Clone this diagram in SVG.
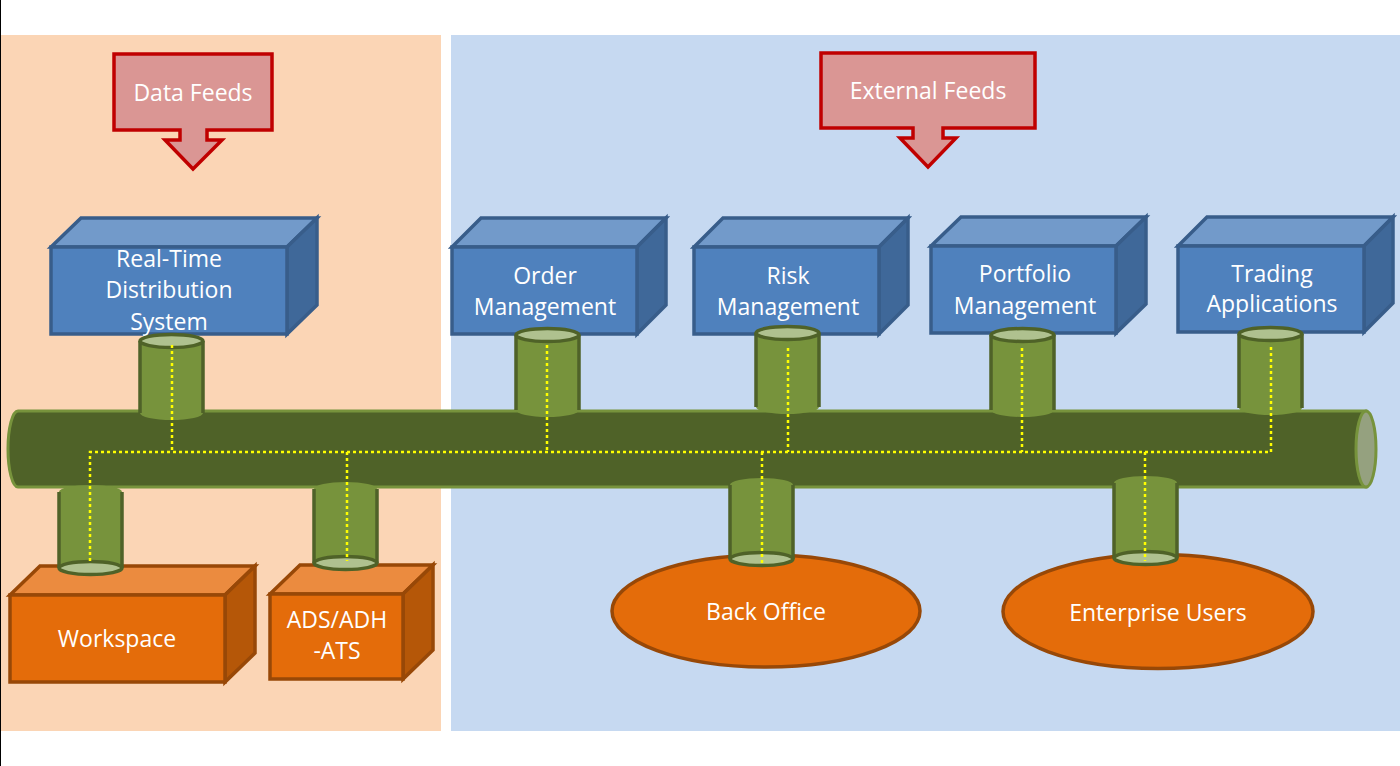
<svg xmlns="http://www.w3.org/2000/svg" width="1400" height="766" viewBox="0 0 1400 766">
<style>
.lbl{font-family:"Open Sans","Liberation Sans",sans-serif;font-size:23px;fill:#fff;text-anchor:middle}
.callout{fill:#DA9694;stroke:#C00000;stroke-width:3.5;stroke-linejoin:miter}
.bf{fill:#4F81BD;stroke:#385D8A;stroke-width:3.5;stroke-linejoin:miter}
.bt{fill:#729ACA;stroke:#385D8A;stroke-width:3.5;stroke-linejoin:miter}
.bs{fill:#3F6899;stroke:#385D8A;stroke-width:3.5;stroke-linejoin:miter}
.of{fill:#E46C0A;stroke:#984807;stroke-width:3.5;stroke-linejoin:miter}
.ot{fill:#EB8B3F;stroke:#984807;stroke-width:3.5;stroke-linejoin:miter}
.os{fill:#B55708;stroke:#984807;stroke-width:3.5;stroke-linejoin:miter}
.cb{fill:#77933C;stroke:none}
.cs{stroke:#4F6228;stroke-width:3.5;fill:none}
.cc{fill:#AFC18F;stroke:#4F6228;stroke-width:3.5}
.dot{fill:none;stroke:#FFFF00;stroke-width:2.5;stroke-dasharray:3 3}
</style>
<rect x="0" y="0" width="1400" height="766" fill="#fff"/>
<rect x="0" y="0" width="1" height="766" fill="#000"/>
<rect x="1" y="35" width="440" height="696" fill="#FBD5B5"/>
<rect x="451" y="35" width="949" height="696" fill="#C6D9F1"/>

<g id="data-feeds">
<path class="callout" d="M114,54 H272 V130 H207 V140 H222 L193,169 L165,140 H180 V130 H114 Z"/>
<text class="lbl" x="193" y="101">Data Feeds</text>
</g>
<g id="external-feeds">
<path class="callout" d="M821,53 H1035 V128 H943 V138 H956 L928,167 L900,138 H913 V128 H821 Z"/>
<text class="lbl" x="928" y="99">External Feeds</text>
</g>

<g id="rtds">
<path class="bt" d="M51,247 L81,218 H317 L287,247 Z"/>
<path class="bs" d="M287,247 L317,218 V305 L287,334 Z"/>
<rect class="bf" x="51" y="247" width="236" height="87"/>
<text class="lbl" x="169" y="267">Real-Time</text>
<text class="lbl" x="169" y="298">Distribution</text>
<text class="lbl" x="169" y="330">System</text>
</g>
<g id="order-management">
<path class="bt" d="M452,247 L481,218 H666 L637,247 Z"/>
<path class="bs" d="M637,247 L666,218 V305 L637,334 Z"/>
<rect class="bf" x="452" y="247" width="185" height="87"/>
<text class="lbl" x="545" y="284">Order</text>
<text class="lbl" x="545" y="315">Management</text>
</g>
<g id="risk-management">
<path class="bt" d="M694,247 L723,218 H908 L879,247 Z"/>
<path class="bs" d="M879,247 L908,218 V305 L879,334 Z"/>
<rect class="bf" x="694" y="247" width="185" height="87"/>
<text class="lbl" x="788" y="284">Risk</text>
<text class="lbl" x="788" y="315">Management</text>
</g>
<g id="portfolio-management">
<path class="bt" d="M931,246 L961,217 H1146 L1116,246 Z"/>
<path class="bs" d="M1116,246 L1146,217 V304 L1116,333 Z"/>
<rect class="bf" x="931" y="246" width="185" height="87"/>
<text class="lbl" x="1025" y="282">Portfolio</text>
<text class="lbl" x="1025" y="314">Management</text>
</g>
<g id="trading-applications">
<path class="bt" d="M1178,246 L1207,217 H1393 L1364,246 Z"/>
<path class="bs" d="M1364,246 L1393,217 V303 L1364,332 Z"/>
<rect class="bf" x="1178" y="246" width="186" height="86"/>
<text class="lbl" x="1272" y="282">Trading</text>
<text class="lbl" x="1272" y="312">Applications</text>
</g>

<g id="workspace">
<path class="ot" d="M10,595 L40,566 H255 L225,595 Z"/>
<path class="os" d="M225,595 L255,566 V653 L225,682 Z"/>
<rect class="of" x="10" y="595" width="215" height="87"/>
<text class="lbl" x="117" y="647">Workspace</text>
</g>
<g id="ads-adh-ats">
<path class="ot" d="M270,594 L300,565 H433 L403,594 Z"/>
<path class="os" d="M403,594 L433,565 V650 L403,679 Z"/>
<rect class="of" x="270" y="594" width="133" height="85"/>
<text class="lbl" x="337" y="628">ADS/ADH</text>
<text class="lbl" x="337" y="659">-ATS</text>
</g>
<g id="back-office">
<ellipse class="of" cx="766" cy="611" rx="154" ry="56"/>
<text class="lbl" x="766" y="620">Back Office</text>
</g>
<g id="enterprise-users">
<ellipse class="of" cx="1158" cy="611.5" rx="155" ry="57"/>
<text class="lbl" x="1158" y="621">Enterprise Users</text>
</g>

<g id="bus">
<path d="M18,411 H1366 V487 H18 A10 38 0 0 1 18,411 Z" fill="#4F6228" stroke="#77933C" stroke-width="3"/>
<ellipse cx="1366" cy="449" rx="10" ry="38" fill="#95A17F" stroke="#77933C" stroke-width="3"/>
</g>

<g id="connectors">
<g id="cyl-rtds">
<path class="cb" d="M140,341 V413 A31.5 7 0 0 0 203,413 V341 Z"/>
<path class="cs" d="M140,341 V413 M203,341 V413"/>
<ellipse class="cc" cx="171.5" cy="341" rx="31.5" ry="6.5"/>
</g>
<g id="cyl-order">
<path class="cb" d="M516,335 V410 A31.5 7 0 0 0 579,410 V335 Z"/>
<path class="cs" d="M516,335 V410 M579,335 V410"/>
<ellipse class="cc" cx="547.5" cy="335" rx="31.5" ry="6.5"/>
</g>
<g id="cyl-risk">
<path class="cb" d="M756,333 V407 A31.5 7 0 0 0 819,407 V333 Z"/>
<path class="cs" d="M756,333 V407 M819,333 V407"/>
<ellipse class="cc" cx="787.5" cy="333" rx="31.5" ry="6.5"/>
</g>
<g id="cyl-portfolio">
<path class="cb" d="M991,335 V410 A31.5 7 0 0 0 1054,410 V335 Z"/>
<path class="cs" d="M991,335 V410 M1054,335 V410"/>
<ellipse class="cc" cx="1022.5" cy="335" rx="31.5" ry="6.5"/>
</g>
<g id="cyl-trading">
<path class="cb" d="M1239,334 V408 A31.5 7 0 0 0 1302,408 V334 Z"/>
<path class="cs" d="M1239,334 V408 M1302,334 V408"/>
<ellipse class="cc" cx="1270.5" cy="334" rx="31.5" ry="6.5"/>
</g>
<g id="cyl-workspace">
<path class="cb" d="M59,568 V492 A31.5 7 0 0 1 122,492 V568 Z"/>
<path class="cs" d="M59,492 V568 M122,492 V568"/>
<ellipse class="cc" cx="90.5" cy="568" rx="31.5" ry="6.5"/>
</g>
<g id="cyl-ads">
<path class="cb" d="M314,563 V489 A31.5 7 0 0 1 377,489 V563 Z"/>
<path class="cs" d="M314,489 V563 M377,489 V563"/>
<ellipse class="cc" cx="345.5" cy="563" rx="31.5" ry="6.5"/>
</g>
<g id="cyl-backoffice">
<path class="cb" d="M730,559 V485 A31.5 7 0 0 1 793,485 V559 Z"/>
<path class="cs" d="M730,485 V559 M793,485 V559"/>
<ellipse class="cc" cx="761.5" cy="559" rx="31.5" ry="6.5"/>
</g>
<g id="cyl-enterprise">
<path class="cb" d="M1114,558 V483 A31.5 7 0 0 1 1177,483 V558 Z"/>
<path class="cs" d="M1114,483 V558 M1177,483 V558"/>
<ellipse class="cc" cx="1145.5" cy="558" rx="31.5" ry="6.5"/>
</g>
<path class="dot" d="M90,561 V452 H1271 V345"/>
<path class="dot" d="M172,345 V452"/>
<path class="dot" d="M347,452 V561"/>
<path class="dot" d="M547,345 V452"/>
<path class="dot" d="M788,348 V452"/>
<path class="dot" d="M762,452 V563"/>
<path class="dot" d="M1022,348 V452"/>
<path class="dot" d="M1145,452 V561"/>
</g>
</svg>
